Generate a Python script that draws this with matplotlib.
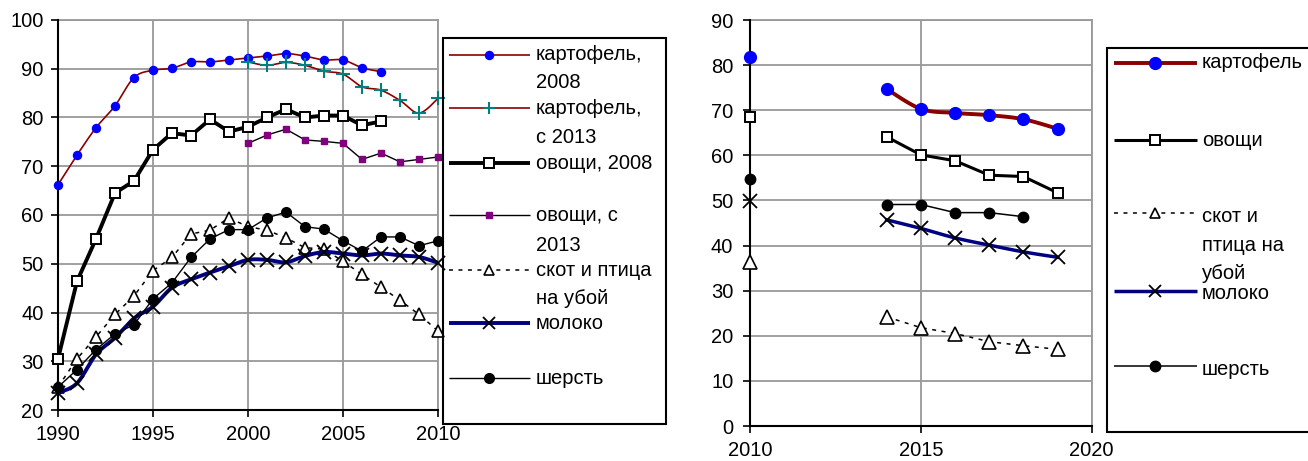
import numpy as np
import matplotlib
matplotlib.use("Agg")
import matplotlib.pyplot as plt

plt.rcParams['font.family'] = ['Liberation Sans', 'DejaVu Sans']

# ---------------- data ----------------
years_left = list(range(1990, 2011))
potato_2008 = [66.2, 72.3, 77.9, 82.4, 88.2, 89.7, 90.1, 91.4, 91.4, 91.8, 92.2,
               92.6, 93.1, 92.6, 91.8, 91.8, 90.2, 89.4, None, None, None]
potato_2013 = [None] * 10 + [91.4, 90.7, 91.3, 90.7, 89.5, 88.9, 86.3, 85.6, 83.5, 80.9, 83.9]
veg_2008 = [30.5, 46.4, 55.1, 64.5, 67.0, 73.4, 76.8, 76.3, 79.6, 77.1, 78.1,
            80.0, 81.7, 80.0, 80.4, 80.4, 78.4, 79.2, None, None, None]
veg_2013 = [None] * 10 + [74.7, 76.4, 77.6, 75.4, 75.1, 74.7, 71.4, 72.7, 70.9, 71.4, 71.9]
livestock_left = [24.7, 30.5, 35.0, 39.6, 43.4, 48.6, 51.3, 56.1, 56.9, 59.4, 57.6,
                  56.9, 55.3, 53.3, 53.0, 50.5, 47.8, 45.2, 42.5, 39.6, 36.2]
milk_left = [23.5, 25.5, 31.4, 34.8, 38.8, 41.2, 45.1, 46.8, 48.2, 49.5, 50.8,
             50.8, 50.3, 51.6, 52.4, 52.1, 51.7, 52.1, 51.7, 51.4, 50.2]
wool_left = [24.7, 28.3, 32.4, 35.6, 37.5, 42.8, 46.1, 51.3, 55.1, 57.0, 57.0,
             59.4, 60.6, 57.6, 57.1, 54.7, 52.6, 55.5, 55.5, 53.7, 54.7]

years_right = list(range(2010, 2020))
potato_right = [81.7, None, None, None, 74.7, 70.3, 69.4, 68.9, 68.0, 65.9]
veg_right = [68.6, None, None, None, 64.1, 60.1, 58.8, 55.6, 55.3, 51.7]
livestock_right = [36.4, None, None, None, 24.2, 21.8, 20.5, 18.7, 17.8, 17.0]
milk_right = [49.9, None, None, None, 45.7, 43.8, 41.7, 40.1, 38.6, 37.4]
wool_right = [54.7, None, None, None, 49.1, 49.1, 47.3, 47.3, 46.4, None]

labels_left = [["картофель,", "2008"], ["картофель,", "с 2013"], ["овощи, 2008"],
               ["овощи, с", "2013"], ["скот и птица", "на убой"], ["молоко"], ["шерсть"]]
labels_right = [["картофель"], ["овощи"], ["скот и", "птица на", "убой"], ["молоко"], ["шерсть"]]

# ---------------- styles ----------------
DRED = '#8B0000'
NAVY = '#000080'
BLUE = '#0000FF'
TEAL = '#008080'
PURP = '#800080'
GRID = '#999999'
FS = 14.5


def to_arr(v):
    return np.array([np.nan if x is None else x for x in v], dtype=float)


def smooth_curve(x, y, n=24):
    """Excel-like smoothed line (Catmull-Rom Bezier) through data points, per contiguous run."""
    x = np.asarray(x, float)
    y = np.asarray(y, float)
    ok = ~np.isnan(y)
    runs = []
    i = 0
    while i < len(y):
        if ok[i]:
            j = i
            while j + 1 < len(y) and ok[j + 1]:
                j += 1
            runs.append((i, j))
            i = j + 1
        else:
            i += 1
    xs_all, ys_all = [], []
    for a, b in runs:
        px = x[a:b + 1]
        py = y[a:b + 1]
        m = len(px)
        if m == 1:
            continue
        cx, cy = [], []
        for k in range(m - 1):
            p0 = (px[max(k - 1, 0)], py[max(k - 1, 0)])
            p1 = (px[k], py[k])
            p2 = (px[k + 1], py[k + 1])
            p3 = (px[min(k + 2, m - 1)], py[min(k + 2, m - 1)])
            c1 = (p1[0] + (p2[0] - p0[0]) / 6, p1[1] + (p2[1] - p0[1]) / 6)
            c2 = (p2[0] - (p3[0] - p1[0]) / 6, p2[1] - (p3[1] - p1[1]) / 6)
            t = np.linspace(0, 1, n)
            bx = (1 - t) ** 3 * p1[0] + 3 * (1 - t) ** 2 * t * c1[0] + 3 * (1 - t) * t ** 2 * c2[0] + t ** 3 * p2[0]
            by = (1 - t) ** 3 * p1[1] + 3 * (1 - t) ** 2 * t * c1[1] + 3 * (1 - t) * t ** 2 * c2[1] + t ** 3 * p2[1]
            cx.extend(bx)
            cy.extend(by)
        xs_all.extend(cx + [np.nan])
        ys_all.extend(cy + [np.nan])
    return np.array(xs_all), np.array(ys_all)


def style_axes(ax, xlim, ylim, xt, yt, xpad, ypad):
    ax.set_xlim(*xlim)
    ax.set_ylim(*ylim)
    ax.set_xticks(xt)
    ax.set_yticks(yt)
    ax.grid(True, color=GRID, lw=1.3, zorder=0)
    ax.set_axisbelow(True)
    for s in ['top', 'right']:
        ax.spines[s].set_color(GRID)
        ax.spines[s].set_linewidth(1.3)
    for s in ['left', 'bottom']:
        ax.spines[s].set_color('black')
        ax.spines[s].set_linewidth(1.5)
        ax.spines[s].set_zorder(3)
    ax.tick_params(axis='x', direction='out', length=5, width=1.2, pad=xpad, labelsize=FS)
    ax.tick_params(axis='y', direction='out', length=5, width=1.2, pad=ypad, labelsize=FS)


fig = plt.figure(figsize=(13.08, 4.61), dpi=100)

# ---------------- left panel ----------------
axL = fig.add_axes([58 / 1308, 51 / 461, 380 / 1308, 390 / 461])
style_axes(axL, (1990, 2010), (20, 100), [1990, 1995, 2000, 2005, 2010],
           range(20, 101, 10), 5.5, 5.5)
xl = np.array(years_left, float)

sx, sy = smooth_curve(xl, to_arr(potato_2008))
axL.plot(sx, sy, color=DRED, lw=1.2, zorder=4)
axL.plot(xl, to_arr(potato_2008), ls='none', marker='o', ms=5.8, mfc=BLUE, mec=BLUE, zorder=5, clip_on=False)

sx, sy = smooth_curve(xl, to_arr(potato_2013))
axL.plot(sx, sy, color=DRED, lw=1.2, zorder=4)
axL.plot(xl, to_arr(potato_2013), ls='none', marker='+', ms=10, mew=1.5, color=TEAL, zorder=5, clip_on=False)

axL.plot(xl, to_arr(veg_2008), color='black', lw=2.8, marker='s', ms=7.5, mfc='white', mec='black',
         mew=1.4, zorder=4, clip_on=False)
axL.plot(xl, to_arr(veg_2013), color='black', lw=1.0, marker='s', ms=5, mfc=PURP, mec=PURP,
         zorder=4, clip_on=False)
axL.plot(xl, to_arr(livestock_left), color='black', lw=1.1, dashes=(2.6, 3.6), marker='^', ms=9,
         mfc='white', mec='black', mew=1.2, zorder=4, clip_on=False)
sx, sy = smooth_curve(xl, to_arr(milk_left))
axL.plot(sx, sy, color=NAVY, lw=2.8, zorder=4)
axL.plot(xl, to_arr(milk_left), ls='none', marker='x', ms=9.5, mew=1.3, color='black', zorder=5, clip_on=False)
axL.plot(xl, to_arr(wool_left), color='black', lw=1.0, marker='o', ms=7, mfc='black', mec='black',
         zorder=4, clip_on=False)

# ---------------- right panel ----------------
axR = fig.add_axes([750 / 1308, 35 / 461, 341.7 / 1308, 406 / 461])
style_axes(axR, (2010, 2020), (0, 90), [2010, 2015, 2020], range(0, 91, 10), 6.0, 7.0)
xr = np.array(years_right, float)

sx, sy = smooth_curve(xr, to_arr(potato_right))
axR.plot(sx, sy, color=DRED, lw=2.8, zorder=4)
axR.plot(xr, to_arr(potato_right), ls='none', marker='o', ms=8.5, mfc=BLUE, mec=BLUE, zorder=5, clip_on=False)
axR.plot(xr, to_arr(veg_right), color='black', lw=2.2, marker='s', ms=7.5, mfc='white', mec='black',
         mew=1.4, zorder=4, clip_on=False)
axR.plot(xr, to_arr(livestock_right), color='black', lw=1.1, dashes=(2.6, 3.6), marker='^', ms=9.5,
         mfc='white', mec='black', mew=1.2, zorder=4, clip_on=False)
sx, sy = smooth_curve(xr, to_arr(milk_right))
axR.plot(sx, sy, color=NAVY, lw=2.5, zorder=4)
axR.plot(xr, to_arr(milk_right), ls='none', marker='x', ms=9.5, mew=1.3, color='black', zorder=5, clip_on=False)
axR.plot(xr, to_arr(wool_right), color='black', lw=1.1, marker='o', ms=7.5, mfc='black', mec='black',
         zorder=4, clip_on=False)

# ---------------- legends (drawn in figure pixel space) ----------------
ov = fig.add_axes([0, 0, 1, 1], zorder=10)
ov.set_xlim(0, 1308)
ov.set_ylim(461, 0)
ov.axis('off')
ov.patch.set_alpha(0)

ov.add_patch(plt.Rectangle((443, 38), 223, 386, fill=False, ec='black', lw=1.5))
# right legend box runs past the figure's right edge
ov.plot([1340, 1107, 1107, 1340], [48, 48, 432, 432], color='black', lw=1.5, solid_joinstyle='miter')

left_handles = [
    dict(color=DRED, lw=1.2, marker='o', ms=5.8, mfc=BLUE, mec=BLUE),
    dict(color=DRED, lw=1.2, marker='+', ms=9, mew=1.5, mfc=TEAL, mec=TEAL),
    dict(color='black', lw=2.8, marker='s', ms=7, mfc='white', mec='black', mew=1.4),
    dict(color='black', lw=1.0, marker='s', ms=5, mfc=PURP, mec=PURP),
    dict(color='black', lw=1.1, dashes=(2.6, 3.6), marker='^', ms=7.5, mfc='white', mec='black', mew=1.2),
    dict(color=NAVY, lw=2.8, marker='x', ms=8, mew=1.3, mfc='black', mec='black'),
    dict(color='black', lw=1.0, marker='o', ms=7, mfc='black', mec='black'),
]
left_rows = [[55, 83], [108, 137], [163], [215, 245], [270, 298], [323], [378]]
for h, rows, labs in zip(left_handles, left_rows, labels_left):
    y = rows[0]
    style = {k: v for k, v in h.items() if not k.startswith('m')}
    mstyle = {k: v for k, v in h.items() if k.startswith('m')}
    ov.plot([449, 530], [y, y], solid_capstyle='butt', **style)
    ov.plot([489], [y], ls='none', **mstyle)
    for yy, t in zip(rows, labs):
        ov.text(536, yy, t, fontsize=FS, va='center', ha='left')

right_handles = [
    dict(color=DRED, lw=2.8, marker='o', ms=8.5, mfc=BLUE, mec=BLUE),
    dict(color='black', lw=2.2, marker='s', ms=7, mfc='white', mec='black', mew=1.4),
    dict(color='black', lw=1.1, dashes=(2.6, 3.6), marker='^', ms=7.5, mfc='white', mec='black', mew=1.2),
    dict(color=NAVY, lw=2.5, marker='x', ms=8, mew=1.3, mfc='black', mec='black'),
    dict(color='black', lw=1.1, marker='o', ms=7.5, mfc='black', mec='black'),
]
right_handle_y = [63, 140, 213, 291, 366]
right_rows = [[63], [140], [216, 245, 273], [293], [369]]
for h, hy, rows, labs in zip(right_handles, right_handle_y, right_rows, labels_right):
    style = {k: v for k, v in h.items() if not k.startswith('m')}
    mstyle = {k: v for k, v in h.items() if k.startswith('m')}
    ov.plot([1114, 1197], [hy, hy], solid_capstyle='butt', **style)
    ov.plot([1155], [hy], ls='none', **mstyle)
    for yy, t in zip(rows, labs):
        ov.text(1202, yy, t, fontsize=FS, va='center', ha='left')

fig.savefig('out.png', dpi=100)
